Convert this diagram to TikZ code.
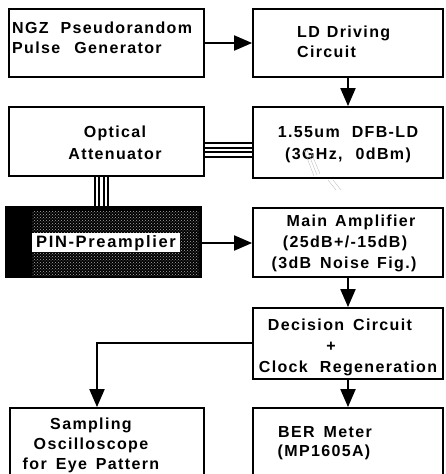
\documentclass[tikz,border=0pt]{standalone}
\usepackage{fontspec}
\setmainfont{Liberation Sans}[LetterSpace=8.5]
\usetikzlibrary{arrows.meta,patterns}
\newcommand\xgap[1]{\hspace{#1pt}}
\begin{document}
\begin{tikzpicture}[x=1pt,y=-1pt,
  box/.style={draw=black,line width=1.8pt,inner sep=0pt},
  txt/.style={font=\fontsize{16}{19}\selectfont\bfseries,inner sep=0pt,anchor=base},
  txtl/.style={txt,anchor=base west},
  arr/.style={line width=2pt,-{Triangle[length=18pt,width=15pt]}},
  fib/.style={line width=2pt},
  scratch/.style={draw=gray!55,line width=0.35pt}]
\useasboundingbox (0,0) rectangle (445,474);
\clip (0,0) rectangle (445,474);
% boxes
\node[box,minimum width=195pt,minimum height=68pt] (ngz) at (106.5,43) {};
\node[box,minimum width=190pt,minimum height=68pt] (ld) at (348,43) {};
\node[box,minimum width=195pt,minimum height=69pt] (opt) at (106.5,141.5) {};
\node[box,minimum width=190pt,minimum height=71pt] (dfb) at (348,142.5) {};
\node[box,fill=black,minimum width=195pt,minimum height=70pt] (pin) at (103.5,242) {};
\fill[pattern=crosshatch dots,pattern color=gray!65] (32,211) rectangle (199,275);
\node[box,minimum width=190pt,minimum height=69pt] (main) at (348,242.5) {};
\node[box,minimum width=190pt,minimum height=71pt] (dec) at (348,343.5) {};
\node[box,minimum width=194pt,minimum height=76pt] (samp) at (107,446) {};
\node[box,minimum width=190pt,minimum height=76pt] (ber) at (348,446) {};
% texts
\node[txtl] (ngza) at (12,33) {NGZ\xgap{12}Pseudorandom};
\node[txtl] (ngzb) at (12,53) {Pulse\xgap{14}Generator};
\node[txtl] (lda) at (297,37) {LD\xgap{7}Driving};
\node[txtl] (ldb) at (297,57) {Circuit};
\node[txt] (opta) at (115,137) {Optical};
\node[txt] (optb) at (115,159) {Attenuator};
\node[txt] (dfba) at (348,137) {1.55um\xgap{12}DFB-LD};
\node[txt] (dfbb) at (348,159) {(3GHz,\xgap{13}0dBm)};
\node[txt,fill=white,inner xsep=4pt,inner ysep=3pt,text height=11.5pt,text depth=1.5pt,font=\fontsize{16.5}{19}\selectfont\bfseries\addfontfeature{LetterSpace=10}] (pinl) at (106,247) {PIN-Preamplier};
\node[txt] (maina) at (351,226) {Main\xgap{8}Amplifier};
\node[txt] (mainb) at (345,247) {(25dB+/-15dB)};
\node[txt] (mainc) at (344,268) {(3dB\xgap{9}Noise\xgap{8}Fig.)};
\node[txt] (deca) at (340,330) {Decision\xgap{9}Circuit};
\node[txt] (decb) at (331,351) {+};
\node[txt] (decc) at (348,372) {Clock\xgap{12}Regeneration};
\node[txt] (sampa) at (91,429) {Sampling};
\node[txt] (sampb) at (91,449) {Oscilloscope};
\node[txt] (sampc) at (91,469) {for\xgap{9}Eye\xgap{9}Pattern};
\node[txt] (bera) at (325,437) {BER\xgap{9}Meter};
\node[txt] (berb) at (324,456) {(MP1605A)};
% connectors
\draw[arr] (ngz) -- (ld);
\draw[arr] (ld) -- (dfb);
\foreach \yy in {143,147.5,152,156.5}
  \draw[fib] (opt.east |- 0,\yy) -- (dfb.west |- 0,\yy);
\foreach \xx in {94.5,99,103.5,108}
  \draw[fib] (opt.south -| \xx,0) -- (pin.north -| \xx,0);
\draw[arr] (pin.east |- 0,243) -- (main.west |- 0,243);
\draw[arr] (main) -- (dec);
\draw[arr] (dec.west |- 0,343) -| (samp.north -| 97,0);
\draw[arr] (dec) -- (ber);
% faint scratches
\draw[scratch] (304,150) -- (314,176);
\draw[scratch] (307,150) -- (317,175);
\draw[scratch] (311,152) -- (320,174);
\draw[scratch] (328,180) -- (336,190);
\draw[scratch] (333,180) -- (341,190);
\end{tikzpicture}
\end{document}
